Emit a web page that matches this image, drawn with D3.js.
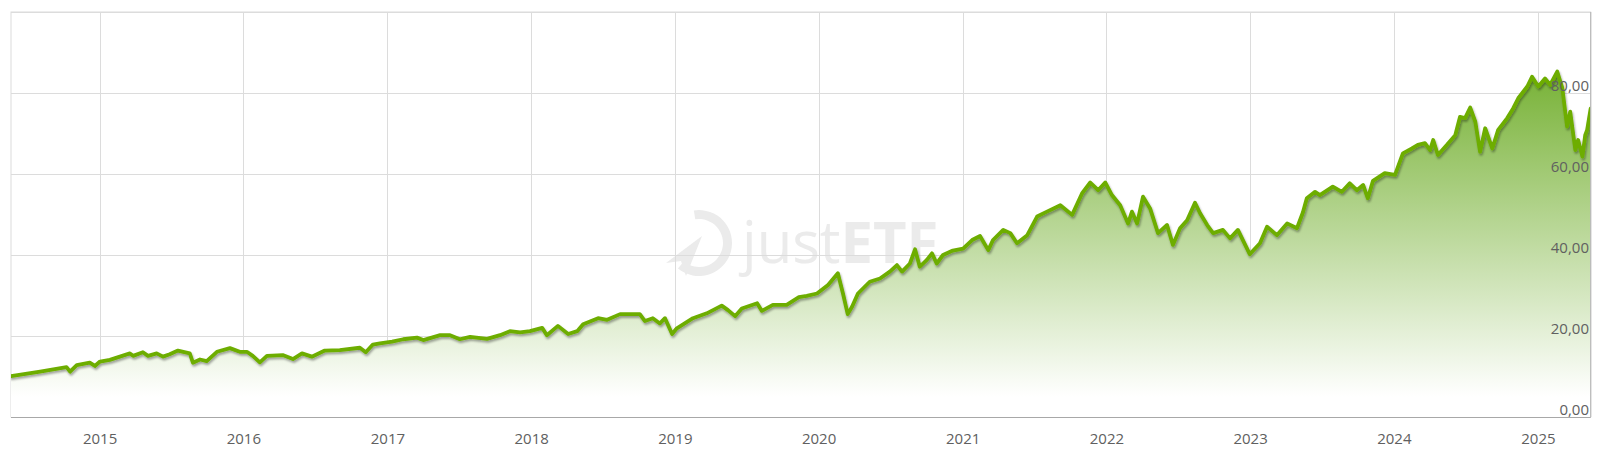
<!DOCTYPE html>
<html>
<head>
<meta charset="utf-8">
<script src="https://cdn.jsdelivr.net/npm/d3@7/dist/d3.min.js"></script>
<style>
  html, body { margin: 0; padding: 0; background: #fff; }
  svg { display: block; font-family: "Open Sans", sans-serif; }
</style>
</head>
<body>
<svg id="chart" width="1600" height="462"></svg>
<script>
// ---- data ----
const dates = [
  "2014-05-21","2014-08-03","2014-10-09","2014-10-18","2014-11-04","2014-12-07","2014-12-20",
  "2015-01-02","2015-01-27","2015-03-19","2015-03-27","2015-04-21","2015-05-04","2015-05-26",
  "2015-06-11","2015-06-28","2015-07-19","2015-08-18","2015-08-26","2015-09-13","2015-09-30",
  "2015-10-26","2015-11-28","2015-12-23",
  "2016-01-10","2016-01-25","2016-02-12","2016-03-01","2016-04-10","2016-05-06","2016-05-29",
  "2016-06-23","2016-07-26","2016-09-02","2016-10-23","2016-11-07","2016-11-25","2016-12-13",
  "2017-01-13","2017-02-10","2017-03-17","2017-04-02","2017-05-15","2017-06-09","2017-07-04",
  "2017-07-30","2017-09-11","2017-10-14","2017-11-08","2017-12-04","2017-12-29",
  "2018-01-29","2018-02-10","2018-03-10","2018-04-05","2018-04-28","2018-05-13","2018-06-20",
  "2018-07-13","2018-08-15","2018-09-09","2018-10-04","2018-10-17","2018-11-06","2018-11-24",
  "2018-12-07","2018-12-25",
  "2019-01-06","2019-02-16","2019-03-23","2019-04-30","2019-05-16","2019-06-03","2019-06-20",
  "2019-07-29","2019-08-10","2019-09-07","2019-10-12","2019-11-12","2019-12-02","2019-12-28",
  "2020-01-25","2020-02-19","2020-03-03","2020-03-15","2020-03-26","2020-04-10","2020-05-10",
  "2020-06-05","2020-06-30","2020-07-18","2020-07-31","2020-08-20","2020-09-02","2020-09-14",
  "2020-10-02","2020-10-15","2020-10-27","2020-11-12","2020-12-07",
  "2021-01-02","2021-01-25","2021-02-14","2021-03-07","2021-03-19","2021-04-14","2021-05-02",
  "2021-05-19","2021-06-14","2021-07-09","2021-08-03","2021-09-06","2021-10-06","2021-10-31",
  "2021-11-21","2021-12-11","2021-12-29",
  "2022-01-15","2022-02-05","2022-02-25","2022-03-07","2022-03-20","2022-04-04","2022-04-22",
  "2022-05-12","2022-06-04","2022-06-19","2022-07-07","2022-07-25","2022-08-14","2022-08-27",
  "2022-09-14","2022-09-29","2022-10-24","2022-11-11","2022-12-01","2022-12-31",
  "2023-01-26","2023-02-13","2023-03-10","2023-04-05","2023-04-30","2023-05-15","2023-05-25",
  "2023-06-15","2023-06-27","2023-07-30","2023-08-22","2023-09-11","2023-09-29","2023-10-15",
  "2023-10-27","2023-11-09","2023-12-09",
  "2024-01-04","2024-01-24","2024-02-16","2024-03-02","2024-03-20","2024-04-02","2024-04-10",
  "2024-04-22","2024-05-15","2024-06-05","2024-06-17","2024-06-30","2024-07-13","2024-07-26",
  "2024-08-07","2024-08-20","2024-09-07","2024-09-22","2024-10-15","2024-10-30","2024-11-12",
  "2024-12-05","2024-12-17",
  "2025-01-02","2025-01-19","2025-02-01","2025-02-19","2025-03-04","2025-03-16","2025-03-24",
  "2025-04-06","2025-04-13","2025-04-24","2025-05-01","2025-05-06","2025-05-15"
];
const values = [
  10.1,11.2,12.3,11.2,12.8,13.4,12.6,
  13.7,14.1,15.7,15.1,16.0,15.1,15.7,
  14.9,15.5,16.4,15.7,13.4,14.2,13.8,
  16.1,17.0,16.1,
  16.1,15.1,13.5,15.1,15.3,14.3,15.7,
  14.9,16.4,16.5,17.1,16.0,17.9,18.2,
  18.6,19.2,19.6,19.0,20.2,20.2,19.2,
  19.8,19.3,20.2,21.2,20.9,21.2,
  22.0,20.2,22.5,20.5,21.2,22.9,24.4,
  24.0,25.4,25.4,25.4,23.7,24.4,23.1,
  24.4,20.5,
  21.9,24.4,25.6,27.5,26.4,24.9,26.8,
  28.1,26.2,27.7,27.7,29.6,29.9,30.5,
  32.6,35.5,30.5,25.4,27.2,30.5,33.4,
  34.2,35.9,37.5,35.9,37.9,41.4,37.1,
  38.8,40.4,37.9,40.0,41.1,
  41.6,43.7,44.7,41.2,43.7,46.2,45.4,
  42.9,44.9,49.5,50.7,52.3,49.9,55.2,
  57.9,56.0,57.9,
  54.8,52.3,47.8,50.7,47.8,54.4,51.5,
  45.4,47.4,42.5,46.6,48.6,52.9,50.3,
  47.4,45.4,46.2,44.1,46.2,40.2,
  42.9,47.0,44.9,47.8,46.6,50.5,54.0,
  55.6,54.8,56.9,55.6,57.7,56.0,57.3,
  54.0,58.3,60.2,
  59.8,65.1,66.3,67.2,67.6,65.9,68.4,
  64.7,67.2,69.6,74.1,73.8,76.4,72.9,
  65.5,71.3,66.3,70.9,73.8,76.2,78.7,
  81.6,84.0,
  81.6,83.6,82.0,85.3,81.2,71.7,75.4,
  65.9,68.4,64.3,69.6,70.9,76.2
];
const yTicks = [0, 20, 40, 60, 80];
const yTickLabels = ["0,00", "20,00", "40,00", "60,00", "80,00"];
const xTickYears = [2015, 2016, 2017, 2018, 2019, 2020, 2021, 2022, 2023, 2024, 2025];

// ---- layout ----
const plot = { left: 11, top: 12, right: 1590.7, bottom: 417 };
const parse = d3.timeParse("%Y-%m-%d");
const series = dates.map((d, i) => ({ date: parse(d), value: values[i] }));

const svg = d3.select("#chart");
const x = d3.scaleTime()
  .domain(d3.extent(series, d => d.date))
  .range([plot.left, plot.right]);
const y = d3.scaleLinear().domain([0, 100]).range([plot.bottom, plot.top]);

const defs = svg.append("defs");
const grad = defs.append("linearGradient")
  .attr("id", "areaGrad").attr("gradientUnits", "userSpaceOnUse")
  .attr("x1", 0).attr("x2", 0).attr("y1", y(86)).attr("y2", y(5));
grad.append("stop").attr("offset", "0%").attr("stop-color", "#76b134");
grad.append("stop").attr("offset", "100%").attr("stop-color", "#ffffff");

const shadow = defs.append("filter").attr("id", "lineShadow")
  .attr("x", "-5%").attr("y", "-20%").attr("width", "110%").attr("height", "140%");
shadow.append("feDropShadow").attr("dx", 1).attr("dy", 2).attr("stdDeviation", 1.1)
  .attr("flood-color", "#000").attr("flood-opacity", 0.35);

defs.append("clipPath").attr("id", "plotClip").append("rect")
  .attr("x", plot.left).attr("y", plot.top - 5)
  .attr("width", plot.right - plot.left).attr("height", plot.bottom - plot.top + 5);

// plot background
svg.append("rect").attr("x", plot.left).attr("y", plot.top)
  .attr("width", plot.right - plot.left).attr("height", plot.bottom - plot.top)
  .attr("fill", "#fff").attr("stroke", "#dcdcdc");

// watermark
const wm = svg.append("g").attr("fill", "#ebebeb").attr("stroke", "none");
const wmArc = d3.arc().innerRadius(24).outerRadius(33)
  .startAngle(-Math.PI * 0.05).endAngle(Math.PI * 1.22);
wm.append("path").attr("d", wmArc()).attr("transform", "translate(699,243)");
wm.append("path").attr("d", "M666,263 L702,236 L686,276 L681,261 Z");
wm.append("text").attr("x", 742).attr("y", 263)
  .attr("font-size", 58).attr("font-weight", 400).attr("font-family", "'Open Sans', sans-serif")
  .text("just")
  .append("tspan").attr("font-weight", 700).text("ETF");

// grid
const grid = svg.append("g").attr("stroke", "#dcdcdc").attr("stroke-width", 1);
grid.selectAll("line.h").data(yTicks.concat([100])).join("line")
  .attr("x1", plot.left).attr("x2", plot.right)
  .attr("y1", d => Math.round(y(d)) + 0.5).attr("y2", d => Math.round(y(d)) + 0.5);
const yearDates = xTickYears.map(yr => new Date(yr, 0, 1));
grid.selectAll("line.v").data(yearDates).join("line")
  .attr("y1", plot.top).attr("y2", plot.bottom)
  .attr("x1", d => Math.round(x(d)) + 0.5).attr("x2", d => Math.round(x(d)) + 0.5);

// area + line
const g = svg.append("g").attr("clip-path", "url(#plotClip)");
g.append("path").datum(series)
  .attr("fill", "url(#areaGrad)")
  .attr("d", d3.area().x(d => x(d.date)).y0(y(0)).y1(d => y(d.value)));
g.append("path").datum(series)
  .attr("fill", "none").attr("stroke", "#6dad05").attr("stroke-width", 3.8)
  .attr("stroke-linejoin", "round").attr("stroke-linecap", "round")
  .attr("filter", "url(#lineShadow)")
  .attr("d", d3.line().x(d => x(d.date)).y(d => y(d.value)));

// borders
svg.append("line").attr("x1", plot.left).attr("x2", plot.right)
  .attr("y1", plot.bottom + 0.5).attr("y2", plot.bottom + 0.5)
  .attr("stroke", "#a8a8a8").attr("stroke-width", 1.2);
svg.append("line").attr("x1", plot.right).attr("x2", plot.right)
  .attr("y1", plot.top).attr("y2", plot.bottom)
  .attr("stroke", "#b8b8b8").attr("stroke-width", 1.2);

// x axis labels
const xAxis = d3.axisBottom(x).tickValues(yearDates).tickSize(0).tickPadding(0)
  .tickFormat(d3.timeFormat("%Y"));
const xg = svg.append("g").attr("transform", `translate(0,${plot.bottom})`).call(xAxis);
xg.select(".domain").remove();
xg.selectAll("text").attr("dy", null).attr("y", 27)
  .attr("font-size", 15).attr("fill", "#606060").attr("font-family", "'Open Sans', sans-serif");

// y axis labels (inside plot, right aligned)
const yAxis = d3.axisLeft(y).tickValues(yTicks).tickSize(0).tickPadding(0)
  .tickFormat((d, i) => yTickLabels[i]);
const yg = svg.append("g").attr("transform", `translate(1589,0)`).call(yAxis);
yg.select(".domain").remove();
yg.selectAll("text").attr("dy", null).attr("y", -3).attr("x", 0)
  .attr("text-anchor", "end")
  .attr("font-size", 15).attr("fill", "#606060").attr("font-family", "'Open Sans', sans-serif");
</script>
</body>
</html>
